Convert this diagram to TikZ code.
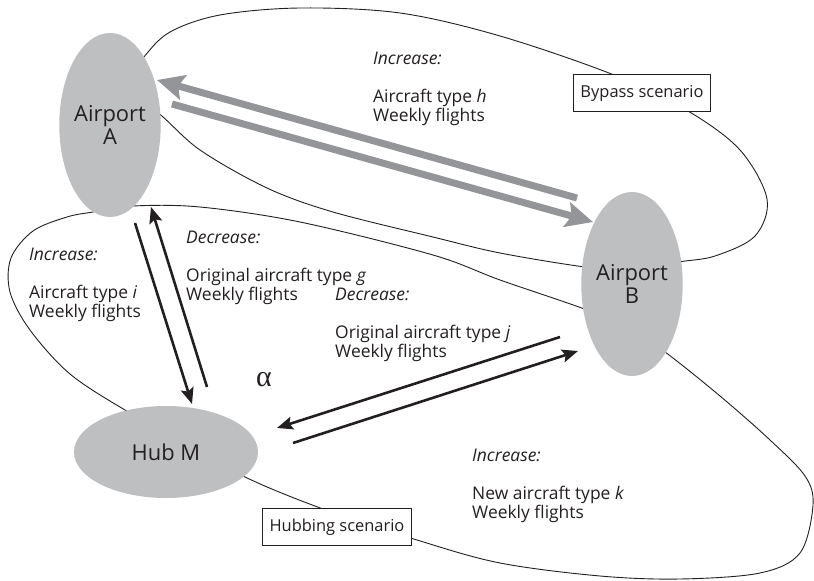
\documentclass[tikz,border=0pt]{standalone}
\usepackage{fontspec}
\setmainfont{Open Sans}
\newfontfamily\greekfont{Liberation Serif}
\usetikzlibrary{arrows.meta}
\usetikzlibrary{shapes.geometric}
\definecolor{nodegray}{RGB}{190,191,193}
\definecolor{arrowgray}{RGB}{148,149,152}
\definecolor{inkgray}{RGB}{35,31,32}

\begin{document}
\begin{tikzpicture}[x=1bp, y=-1bp, inkgray,
airport/.style={ellipse, fill=nodegray, draw=none, minimum width=94bp, minimum height=184bp, inner sep=0pt, align=center, font=\fontsize{22}{23}\selectfont},
hub/.style={ellipse, fill=nodegray, draw=none, minimum width=184bp, minimum height=92bp, inner sep=0pt, font=\fontsize{22}{23}\selectfont},
txt/.style={anchor=north west, inner sep=0pt, align=left, font=\fontsize{17.5}{17}\selectfont},
scenario/.style={draw=inkgray, fill=white, line width=0.9bp, minimum height=37bp, inner xsep=7bp, font=\fontsize{16.5}{17}\selectfont},
loopline/.style={line width=0.9bp},
flow/.style={line width=2.6bp, -{Stealth[length=16bp,width=13bp,inset=3bp]}},
direct/.style={arrowgray, line width=7bp, -{Stealth[length=27bp,width=25bp,inset=5bp]}},
]
\useasboundingbox (0,0) rectangle (814,581);
% scenario loops
\draw[loopline] plot[smooth cycle, tension=0.55] coordinates {(120,90) (143,58) (170,32) (220,15) (300,8) (400,13) (500,36) (614,75) (688,111) (740,150) (767,199) (755,236) (715,256) (678,262) (632,270) (585,267) (500,253) (433,237) (333,212) (267,188) (200,150) (157,112)};
\draw[loopline] plot[smooth cycle, tension=0.55] coordinates {(93,212) (133,206) (200,207) (300,222) (433,255) (500,280) (587,310) (630,330) (665,352) (720,396) (770,440) (805,476) (813,505) (800,553) (760,573) (680,579) (600,576) (500,563) (417,540) (323,509) (245,477) (180,440) (125,410) (70,374) (30,330) (10,292) (11,258) (33,231) (67,217)};
% airports and hub
\node[airport](nA) at (110,125){Airport\\A};
\node[airport](nB) at (632,284){Airport\\B};
\node[hub](nM) at (166,452){Hub M};
\node[scenario](sBypass) at (642,93){Bypass scenario};
\node[scenario](sHub) at (337,527){Hubbing scenario};
% texts
\node[txt](tAB) at (373,52){\textit{Increase:}\\[21bp]Aircraft type \textit{h}\\Weekly flights};
\node[txt](tAM) at (29,248){\textit{Increase:}\\[21bp]Aircraft type \textit{i}\\Weekly flights};
\node[txt](tMA) at (186,231){\textit{Decrease:}\\[21bp]Original aircraft type \textit{g}\\Weekly flights};
\node[txt](tMB) at (335,288){\textit{Decrease:}\\[21bp]Original aircraft type \textit{j}\\Weekly flights};
\node[txt](tNew) at (472,449){\textit{Increase:}\\[21bp]New aircraft type \textit{k}\\Weekly flights};
\node[font=\greekfont\fontsize{30}{30}\selectfont, inner sep=0pt](alpha) at (264,380){α};
% flights
\draw[direct] ([shift={(-55,-86)}]nB.center) -- ([shift={(47,-45)}]nA.center);
\draw[direct] ([shift={(62,-21)}]nA.center) -- ([shift={(-39,-62)}]nB.center);
\draw[flow] ([shift={(25,98)}]nA.center) -- ([shift={(26,-48)}]nM.center);
\draw[flow] ([shift={(41,-65)}]nM.center) -- ([shift={(41,82)}]nA.center);
\draw[flow] ([shift={(-72,53)}]nB.center) -- ([shift={(111,-24)}]nM.center);
\draw[flow] ([shift={(127,-9)}]nM.center) -- ([shift={(-54,67)}]nB.center);
\end{tikzpicture}
\end{document}
